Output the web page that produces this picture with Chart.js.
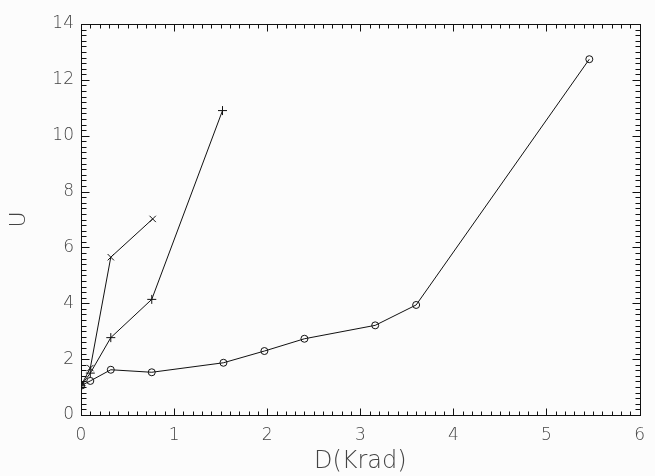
<!DOCTYPE html>
<html>
<head>
<meta charset="utf-8">
<script src="https://cdn.jsdelivr.net/npm/chart.js@4"></script>
<style>
  html, body { margin: 0; padding: 0; background: #fcfcfc; }
  #wrap { width: 655px; height: 476px; }
</style>
</head>
<body>
<div id="wrap"><canvas id="my-chart" width="655" height="476"></canvas></div>
<script>
// readings
const circleX = [0, 0.1, 0.32, 0.76, 1.53, 1.97, 2.40, 3.16, 3.60, 5.46];
const circleY = [1.05, 1.22, 1.62, 1.53, 1.87, 2.29, 2.73, 3.21, 3.94, 12.74];
const plusX = [0, 0.1, 0.32, 0.76, 1.52];
const plusY = [1.05, 1.5, 2.77, 4.14, 10.9];
const crossX = [0, 0.1, 0.32, 0.77];
const crossY = [1.05, 1.68, 5.65, 7.02];
const xTicks = [0, 1, 2, 3, 4, 5, 6];
const yTicks = [0, 2, 4, 6, 8, 10, 12, 14];

const ink = '#111';
const textCol = '#444';
const font = { family: 'DejaVu Sans', size: 17, weight: 200 };

const toPoints = (xs, ys) => xs.map((x, i) => ({ x, y: ys[i] }));

// IDL style frame: box with inward ticks on all sides
const frame = {
  id: 'frame',
  afterDraw(chart) {
    const { ctx, chartArea: a, scales } = chart;
    const L = Math.round(a.left) + 0.5;
    const R = Math.round(a.right) + 0.5;
    const T = Math.round(a.top) + 0.5;
    const B = Math.round(a.bottom) + 0.5;
    ctx.save();
    ctx.strokeStyle = ink;
    ctx.lineWidth = 1;
    ctx.strokeRect(L, T, R - L, B - T);
    ctx.beginPath();
    for (let i = 0; i <= 60; i++) {
      const len = i % 10 === 0 ? 7 : 4;
      const px = Math.round(scales.x.getPixelForValue(i / 10)) + 0.5;
      ctx.moveTo(px, B);
      ctx.lineTo(px, B - len);
      ctx.moveTo(px, T);
      ctx.lineTo(px, T + len);
    }
    for (let i = 0; i <= 70; i++) {
      const len = i % 10 === 0 ? 8 : 5;
      const py = Math.round(scales.y.getPixelForValue(i / 5)) + 0.5;
      ctx.moveTo(L, py);
      ctx.lineTo(L + len, py);
      ctx.moveTo(R, py);
      ctx.lineTo(R - len, py);
    }
    ctx.stroke();
    ctx.restore();
  },
};

const ds = (label, xs, ys, style, radius) => ({
  label,
  data: toPoints(xs, ys),
  showLine: true,
  borderColor: ink,
  borderWidth: 1,
  pointStyle: style,
  pointRadius: radius,
  pointBorderColor: ink,
  pointBackgroundColor: 'rgba(0,0,0,0)',
  pointBorderWidth: 1,
  tension: 0,
});

new Chart(document.getElementById('my-chart').getContext('2d'), {
  type: 'scatter',
  data: {
    datasets: [
      ds('circles', circleX, circleY, 'circle', 3.5),
      ds('plus', plusX, plusY, 'cross', 4.5),
      ds('x', crossX, crossY, 'crossRot', 4.5),
    ],
  },
  options: {
    responsive: false,
    animation: false,
    layout: { padding: { top: 24, right: 4, left: 0, bottom: 0 } },
    plugins: { legend: { display: false }, tooltip: { enabled: false } },
    scales: {
      x: {
        type: 'linear',
        min: 0,
        max: 6,
        afterBuildTicks: (s) => { s.ticks = xTicks.map((value) => ({ value })); },
        afterFit: (s) => { s.height = 61; },
        grid: { display: false, drawTicks: false },
        border: { display: false },
        ticks: { color: textCol, font, padding: 10, maxRotation: 0 },
        title: { display: true, text: 'D(Krad)', color: textCol, font: { ...font, size: 24 }, padding: { top: 0, bottom: 0 } },
      },
      y: {
        type: 'linear',
        min: 0,
        max: 14,
        afterBuildTicks: (s) => { s.ticks = yTicks.map((value) => ({ value })); },
        afterFit: (s) => { s.width = 81; },
        grid: { display: false, drawTicks: false },
        border: { display: false },
        ticks: { color: textCol, font, padding: 7 },
        title: { display: true, text: 'U', color: textCol, font: { ...font, size: 22 }, padding: { top: 6, bottom: 0 } },
      },
    },
  },
  plugins: [frame],
});
</script>
</body>
</html>
